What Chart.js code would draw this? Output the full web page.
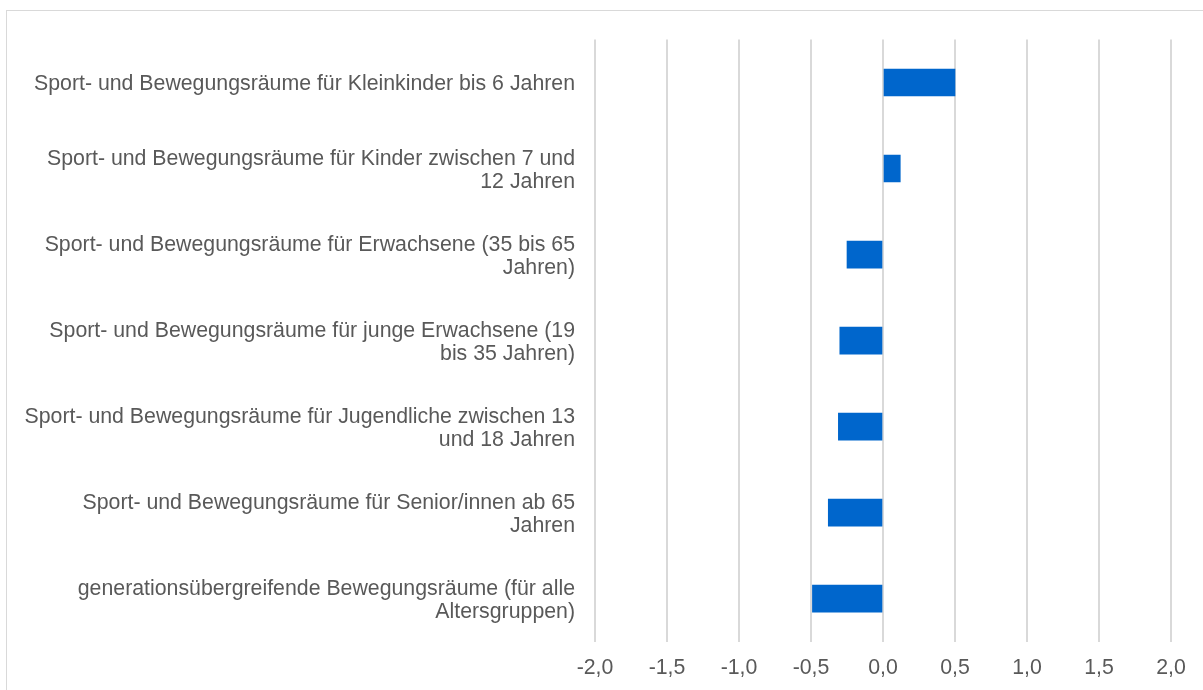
<!DOCTYPE html>
<html>
<head>
<meta charset="utf-8">
<script src="https://cdn.jsdelivr.net/npm/chart.js@4/dist/chart.umd.min.js"></script>
<style>
  html, body { margin: 0; padding: 0; background: #fff; overflow: hidden; }
  #wrap { position: relative; width: 1203px; height: 690px; }
  #frame {
    position: absolute; left: 6px; top: 10px; width: 1300px; height: 800px;
    border-top: 1px solid #d9d9d9; border-left: 1px solid #d9d9d9;
    pointer-events: none;
  }
  canvas { position: absolute; left: 0; top: 0; }
</style>
</head>
<body>
<div id="wrap">
  <canvas id="chart" width="1203" height="690"></canvas>
  <div id="frame"></div>
</div>
<script>
(function () {
  "use strict";

  const categories = [
    ["Sport- und Bewegungsräume für Kleinkinder bis 6 Jahren"],
    ["Sport- und Bewegungsräume für Kinder zwischen 7 und", "12 Jahren"],
    ["Sport- und Bewegungsräume für Erwachsene (35 bis 65", "Jahren)"],
    ["Sport- und Bewegungsräume für junge Erwachsene (19", "bis 35 Jahren)"],
    ["Sport- und Bewegungsräume für Jugendliche zwischen 13", "und 18 Jahren"],
    ["Sport- und Bewegungsräume für Senior/innen ab 65", "Jahren"],
    ["generationsübergreifende Bewegungsräume (für alle", "Altersgruppen)"]
  ];
  const values = [0.5, 0.12, -0.25, -0.30, -0.31, -0.38, -0.49];
  const xTickLabels = ["-2,0", "-1,5", "-1,0", "-0,5", "0,0", "0,5", "1,0", "1,5", "2,0"];

  const BLUE = "#0066cc";
  const GRID = "#d9d9d9";
  const TEXT = "#595959";
  const FONT = { family: "'Liberation Sans', Arial, sans-serif", size: 21.3 };

  new Chart(document.getElementById("chart"), {
    type: "bar",
    data: {
      labels: categories,
      datasets: [{
        data: values,
        backgroundColor: BLUE,
        borderWidth: 0,
        barThickness: 27
      }]
    },
    options: {
      indexAxis: "y",
      responsive: false,
      animation: false,
      layout: { padding: { left: 0, right: 32, top: 39.5, bottom: 0 } },
      plugins: { legend: { display: false }, tooltip: { enabled: false } },
      scales: {
        x: {
          min: -2,
          max: 2,
          ticks: {
            stepSize: 0.5,
            color: TEXT,
            font: FONT,
            padding: 14,
            maxRotation: 0,
            callback: (v, i) => xTickLabels[i]
          },
          grid: { color: GRID, lineWidth: 2, drawTicks: false },
          border: { display: false },
          afterFit: (s) => { s.height = 48.3; s.paddingLeft = 0; s.paddingRight = 0; }
        },
        y: {
          ticks: {
            color: TEXT,
            font: { ...FONT, lineHeight: 1.08 },
            padding: 20,
            labelOffset: 2,
            autoSkip: false
          },
          grid: { display: false, drawTicks: false },
          border: { display: false },
          afterFit: (s) => { s.width = 595; s.paddingTop = 0; s.paddingBottom = 0; }
        }
      }
    }
  });
})();
</script>
</body>
</html>
